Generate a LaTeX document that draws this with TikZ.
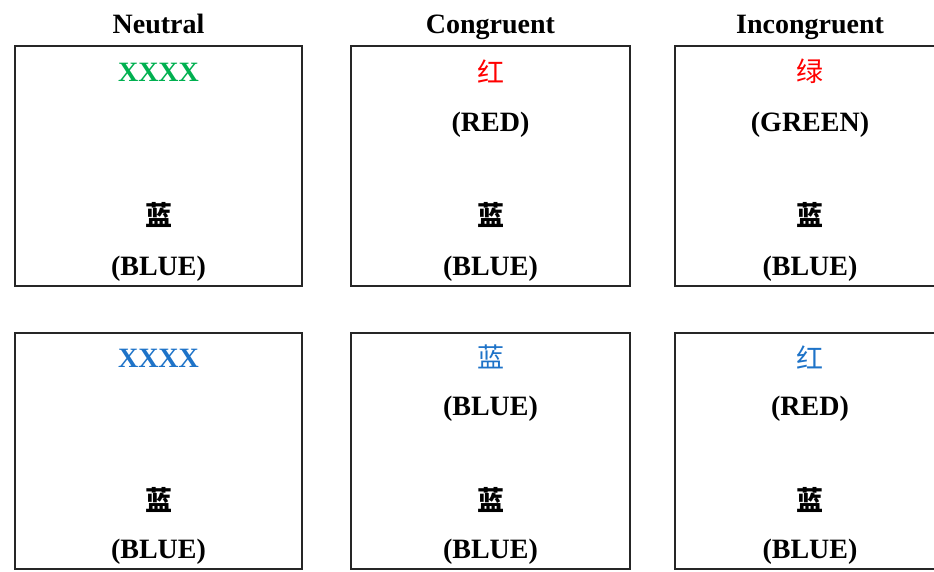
\documentclass[tikz,border=0pt]{standalone}
\usepackage{fontspec}
\setmainfont{Liberation Serif}
\newfontfamily\cjk{Noto Sans CJK SC}
\definecolor{xgreen}{RGB}{0,176,80}
\definecolor{xblue}{RGB}{30,115,200}
\definecolor{xred}{RGB}{255,0,0}
\begin{document}
\begin{tikzpicture}[x=1pt,y=-1pt,
  panel/.style={draw=black!85,line width=1.5pt},
  lbl/.style={font=\fontsize{28}{30}\selectfont\bfseries,inner sep=0pt,anchor=base},
  han/.style={font=\fontsize{27}{29}\selectfont\cjk,inner sep=0pt,anchor=center},
  hanb/.style={font=\fontsize{27}{29}\selectfont\cjk\bfseries,inner sep=0pt,anchor=center}]
\useasboundingbox (0,0) rectangle (934,571);
\clip (0,0) rectangle (934,571);
% titles
\node[lbl] (t1) at (158.5,33) {Neutral};
\node[lbl] (t2) at (490.5,33) {Congruent};
\node[lbl] (t3) at (810,33) {Incongruent};
% boxes
\draw[panel] (15,46) rectangle (302,286);
\draw[panel] (351,46) rectangle (630,286);
\draw[panel] (675,46) rectangle (946,286);
\draw[panel] (15,333) rectangle (302,569);
\draw[panel] (351,333) rectangle (630,569);
\draw[panel] (675,333) rectangle (946,569);
% top row
\node[lbl,text=xgreen] (a1) at (158.5,81) {XXXX};
\node[hanb] (a3) at (158.5,215) {蓝};
\node[lbl] (a4) at (158.5,275) {(BLUE)};
\node[han,text=xred] (b1) at (490.5,71) {红};
\node[lbl] (b2) at (490.5,131.5) {(RED)};
\node[hanb] (b3) at (490.5,215) {蓝};
\node[lbl] (b4) at (490.5,275) {(BLUE)};
\node[han,text=xred] (c1) at (810,71) {绿};
\node[lbl] (c2) at (810,131.5) {(GREEN)};
\node[hanb] (c3) at (810,215) {蓝};
\node[lbl] (c4) at (810,275) {(BLUE)};
% bottom row
\node[lbl,text=xblue] (d1) at (158.5,367) {XXXX};
\node[hanb] (d3) at (158.5,500) {蓝};
\node[lbl] (d4) at (158.5,558.5) {(BLUE)};
\node[han,text=xblue] (e1) at (490.5,357) {蓝};
\node[lbl] (e2) at (490.5,415.5) {(BLUE)};
\node[hanb] (e3) at (490.5,500) {蓝};
\node[lbl] (e4) at (490.5,558.5) {(BLUE)};
\node[han,text=xblue] (f1) at (810,357) {红};
\node[lbl] (f2) at (810,415.5) {(RED)};
\node[hanb] (f3) at (810,500) {蓝};
\node[lbl] (f4) at (810,558.5) {(BLUE)};
\end{tikzpicture}
\end{document}
